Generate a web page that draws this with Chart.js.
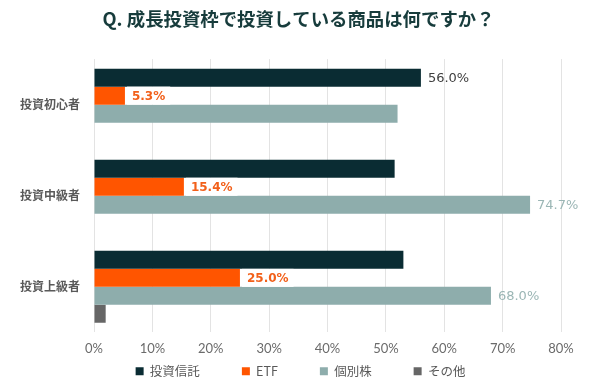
<!DOCTYPE html>
<html>
<head>
<meta charset="utf-8">
<script src="https://cdn.jsdelivr.net/npm/chart.js"></script>
<style>
  html, body { margin: 0; padding: 0; background: #fff; }
  #wrap { width: 600px; height: 390px; }
</style>
</head>
<body>
<div id="wrap"><canvas id="c" width="600" height="390"></canvas></div>
<script>
// カテゴリと系列（%）
const categories = ['投資初心者', '投資中級者', '投資上級者'];
const fundValues  = [56.0, 51.5, 53.0];   // 投資信託
const etfValues   = [5.3, 15.4, 25.0];    // ETF
const stockValues = [52.0, 74.7, 68.0];   // 個別株
const otherValues = [0, 0, 2.0];          // その他
const xTicks = [0, 10, 20, 30, 40, 50, 60, 70, 80];

// 値ラベル（表示するインデックスのみ）
const labelPlugin = {
  id: 'barLabels',
  afterDatasetsDraw(chart) {
    const ctx = chart.ctx;
    chart.data.datasets.forEach((ds, di) => {
      if (!ds.labelAt) return;
      const meta = chart.getDatasetMeta(di);
      ds.labelAt.forEach(i => {
        const bar = meta.data[i];
        const txt = ds.data[i].toFixed(1) + '%';
        ctx.save();
        ctx.font = ds.labelFont;
        ctx.textBaseline = 'middle';
        const w = ctx.measureText(txt).width;
        if (ds.labelBox) {
          ctx.fillStyle = '#fff';
          ctx.fillRect(bar.x + 2, bar.y - 9, w + 10, 18);
        }
        ctx.fillStyle = ds.labelColor;
        ctx.fillText(txt, bar.x + 7, bar.y + 1);
        ctx.restore();
      });
    });
  }
};

// 凡例: 横の間隔は広く、縦の余白は詰める / タイトルと凡例は中央寄せ
const legendSpacing = {
  id: 'legendSpacing',
  beforeInit(chart) {
    chart.legend.fit = (fit => function () {
      fit.call(this);
      this.height = 21;
    })(chart.legend.fit);
  },
  afterLayout(chart) {
    const lg = chart.legend;
    lg.top = 371 - lg.options.labels.padding - 6;
    lg.bottom = 390;
    lg.height = lg.bottom - lg.top;
    lg.left += 17;
    lg.right += 17;
    chart.titleBlock.left = 0;
    chart.titleBlock.right = 597;
  }
};

new Chart(document.getElementById('c'), {
  type: 'bar',
  data: {
    labels: categories,
    datasets: [
      { label: '投資信託', data: fundValues, backgroundColor: '#0a2c33',
        labelAt: [0], labelColor: '#404040', labelFont: '13px "DejaVu Sans"' },
      { label: 'ETF', data: etfValues, backgroundColor: '#ff5500',
        labelAt: [0, 1, 2], labelColor: '#f2601a', labelFont: 'bold 12px "DejaVu Sans"', labelBox: true },
      { label: '個別株', data: stockValues, backgroundColor: '#8eadac',
        labelAt: [1, 2], labelColor: '#9bb6b5', labelFont: '13px "DejaVu Sans"' },
      { label: 'その他', data: otherValues, backgroundColor: '#666666' }
    ]
  },
  options: {
    indexAxis: 'y',
    responsive: false,
    animation: false,
    layout: { padding: { left: 6, right: 39, top: 0, bottom: 4 } },
    datasets: { bar: { barPercentage: 1.0, categoryPercentage: 0.79 } },
    scales: {
      x: {
        min: 0, max: 80,
        afterBuildTicks: axis => { axis.ticks = xTicks.map(v => ({ value: v })); },
        ticks: { callback: v => v + '%', color: '#6b6b6b', font: { family: 'Lato, "Noto Sans CJK JP"', size: 13 }, padding: 8.5 },
        grid: { color: '#e3e3e3', drawTicks: false },
        border: { display: false }
      },
      y: {
        ticks: { color: '#595959', font: { family: '"Noto Sans CJK JP"', size: 12, weight: 'bold' }, padding: 14 },
        grid: { display: false, drawTicks: false },
        border: { display: false }
      }
    },
    plugins: {
      title: {
        display: true,
        text: 'Q. 成長投資枠で投資している商品は何ですか？',
        color: '#173c3c',
        font: { family: '"Noto Sans CJK JP"', size: 18.4, weight: 'bold' },
        padding: { top: 8, bottom: 29 }
      },
      legend: {
        position: 'bottom',
        labels: {
          boxWidth: 8, boxHeight: 8, padding: 42,
          color: '#595959',
          font: { family: '"Noto Sans CJK JP"', size: 12.5 }
        }
      },
      tooltip: { enabled: false }
    }
  },
  plugins: [labelPlugin, legendSpacing]
});
</script>
</body>
</html>
